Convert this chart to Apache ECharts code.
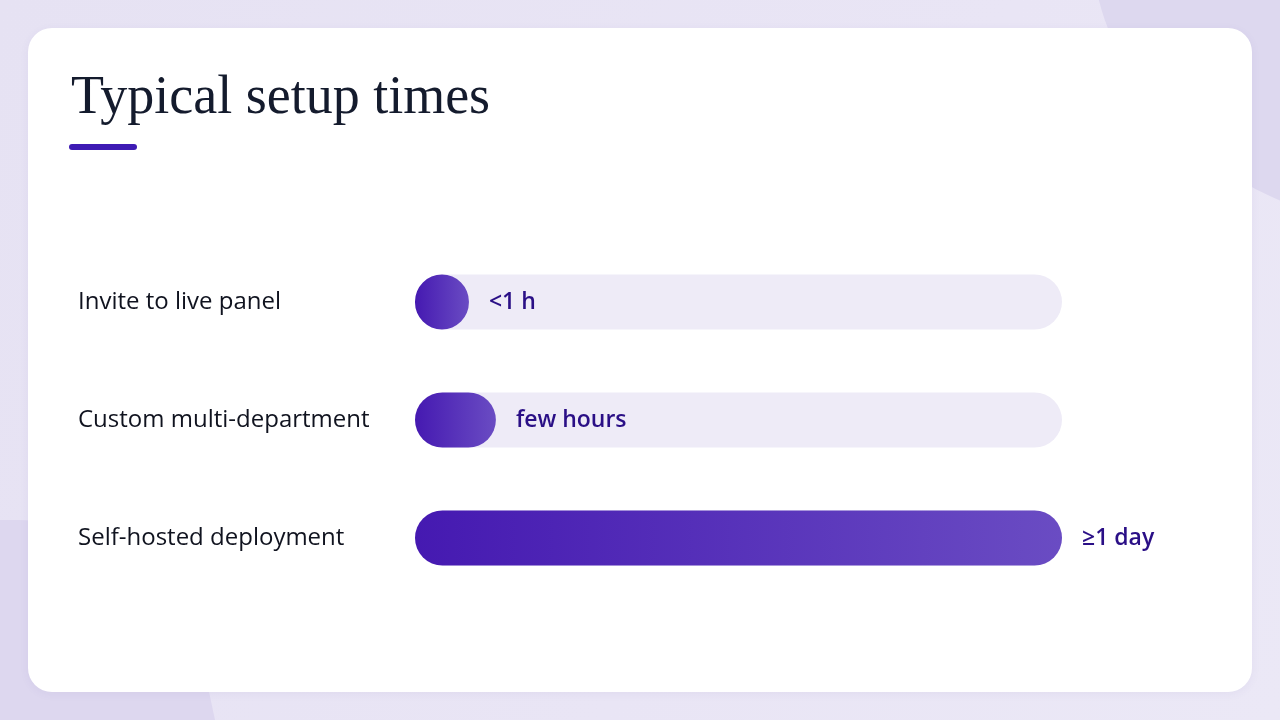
<!DOCTYPE html>
<html>
<head>
<meta charset="utf-8">
<script src="https://cdn.jsdelivr.net/npm/echarts@6/dist/echarts.min.js"></script>
<style>
  html, body { margin: 0; padding: 0; width: 1280px; height: 720px; overflow: hidden; }
  body { background: linear-gradient(120deg, #e6e2f3 0%, #e9e5f5 60%, #ebe8f6 100%); position: relative; }
  .blob-tr { position: absolute; left: 1090px; top: -380px; width: 700px; height: 610px; border-radius: 40% 0 0 50%; background: #ddd8ef; transform: rotate(-6deg); }
  .blob-bl { position: absolute; left: -300px; top: 520px; width: 515px; height: 400px; background: #ddd7ef; border-radius: 0 30% 0 0; transform: skewX(12deg); }
  .card { position: absolute; left: 28px; top: 28px; width: 1224px; height: 664px; background: #fff; border-radius: 24px; box-shadow: 0 2px 10px rgba(90,70,160,0.06); }
  #chart { position: absolute; left: 0; top: 0; width: 1280px; height: 720px; }
</style>
</head>
<body>
<div class="blob-tr"></div>
<div class="blob-bl"></div>
<div class="card"></div>
<div id="chart"></div>
<script>
var categories = ['Invite to live panel', 'Custom multi-department', 'Self-hosted deployment'];
var hoursValues = [2, 3, 24];
var timeLabels = ['<1 h', 'few hours', '≥1 day'];
var axisMax = 24;

var chart = echarts.init(document.getElementById('chart'));

var barFill = new echarts.graphic.LinearGradient(0, 0, 1, 0, [
    {offset: 0, color: '#4519b1'},
    {offset: 1, color: '#6a4cc3'}
]);

var option = {
    backgroundColor: 'transparent',
    title: {
        text: 'Typical setup times',
        left: 66,
        top: 67,
        textStyle: {
            fontFamily: 'Liberation Serif',
            fontWeight: 'normal',
            fontSize: 54,
            color: '#141b2d'
        }
    },
    graphic: [{
        type: 'rect',
        shape: {x: 69, y: 144, width: 68, height: 6, r: 3},
        style: {fill: '#3e1bb4'}
    }],
    grid: {left: 415, right: 218, top: 243, height: 354},
    xAxis: {
        type: 'value',
        min: 0,
        max: axisMax,
        show: false
    },
    yAxis: {
        type: 'category',
        data: categories,
        inverse: true,
        axisLine: {show: false},
        axisTick: {show: false},
        splitLine: {show: false},
        axisLabel: {
            align: 'left',
            margin: 337,
            padding: [4, 0, 0, 0],
            fontFamily: 'Open Sans',
            fontSize: 24,
            color: '#10131f'
        }
    },
    series: [{
        type: 'bar',
        data: hoursValues,
        barWidth: 55,
        showBackground: true,
        backgroundStyle: {color: '#eeebf7', borderRadius: 27.5},
        itemStyle: {color: barFill, borderRadius: 27.5},
        label: {
            show: true,
            position: 'right',
            distance: 20,
            padding: [3, 0, 0, 0],
            fontFamily: 'Open Sans',
            fontWeight: 600,
            fontSize: 23,
            color: '#2a0f86',
            formatter: function (p) { return timeLabels[p.dataIndex]; }
        }
    }]
};
chart.setOption(option);
</script>
</body>
</html>
